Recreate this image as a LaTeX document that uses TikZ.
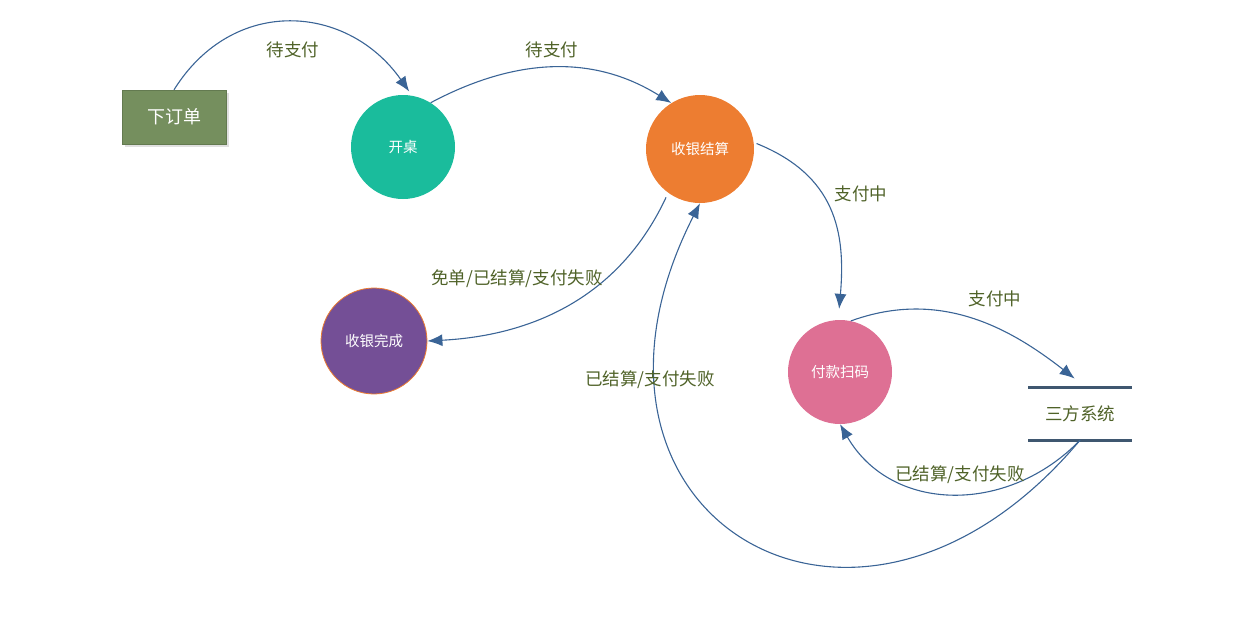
\documentclass[tikz,border=0pt]{standalone}
\usepackage{fontspec}
\setmainfont{Noto Sans CJK SC}
\usepackage{xcolor}
\usepackage{tikz}
\usetikzlibrary{shapes.geometric, positioning, arrows.meta, shadows}

\definecolor{edgeblue}{HTML}{3A6496}
\definecolor{lblgreen}{HTML}{4F6228}
\definecolor{ordergreen}{HTML}{758F5E}
\definecolor{tealc}{HTML}{1ABC9C}
\definecolor{orangec}{HTML}{ED7D31}
\definecolor{purplec}{HTML}{744F96}
\definecolor{pinkc}{HTML}{DE7094}
\definecolor{storec}{HTML}{3F5770}

\begin{document}
\begin{tikzpicture}[
    x=1pt, y=1pt,
    start/.style={
        rectangle,
        draw=ordergreen!85!black,
        fill=ordergreen,
        minimum width=104pt,
        minimum height=54pt,
        text=white,
        font=\fontsize{18}{20}\selectfont,
        drop shadow={shadow xshift=3pt, shadow yshift=-3pt, fill=black!12, opacity=1}
    },
    state/.style={
        circle,
        minimum size=#1,
        inner sep=0pt,
        text=white,
        font=\fontsize{14.5}{16}\selectfont
    },
    store/.style={
        rectangle,
        minimum width=103pt,
        minimum height=52pt,
        text=lblgreen,
        font=\fontsize{17.5}{19}\selectfont
    },
    lbl/.style={text=lblgreen, font=\fontsize{17.5}{19}\selectfont},
    line/.style={draw=edgeblue, line width=1.1pt, -{Latex[length=15pt, width=12pt]}}
]
\useasboundingbox (0,0) rectangle (1240,-619);

\node (xiadan) [start] at (174,-117) {下订单};
\node (kaizhuo) [state=104pt, fill=tealc] at (403,-147) {开桌};
\node (jiesuan) [state=108pt, fill=orangec] at (700,-149) {收银结算};
\node (wancheng) [state=106pt, fill=purplec, draw=orangec, line width=0.8pt] at (374,-341) {收银完成};
\node (saoma) [state=104pt, fill=pinkc] at (840,-372) {付款扫码};
\node (sanfang) [store] at (1080,-414) {三方系统};
\draw [storec, line width=3pt] (sanfang.north west) -- (sanfang.north east);
\draw [storec, line width=3pt] (sanfang.south west) -- (sanfang.south east);

\path [line, shorten >=5pt] (xiadan.north) to[out=58, in=125, looseness=1.2] (kaizhuo.80);
\path [line] (kaizhuo.58) to[out=28, in=148] (jiesuan.122);
\path [line, shorten <=3pt, shorten >=11pt] (jiesuan.7) to[out=-22, in=85, looseness=1.15] (saoma.92);
\path [line, shorten <=5pt] (jiesuan.234) to[out=245, in=3] (wancheng.east);
\path [line, shorten >=15pt] (saoma.78) to[out=20, in=142] (sanfang.76);
\path [line] (sanfang.south) to[out=226, in=-60, looseness=1.1] (saoma.-90);
\path [line] (sanfang.south) to[out=230, in=243, looseness=2] (jiesuan.south);

\node [lbl] at (293,-50) {待支付};
\node [lbl] at (552,-50) {待支付};
\node [lbl] at (861,-194) {支付中};
\node [lbl] at (517,-279) {免单/已结算/支付失败};
\node [lbl] at (995,-299) {支付中};
\node [lbl] at (960,-475) {已结算/支付失败};
\node [lbl] at (650,-380) {已结算/支付失败};

\end{tikzpicture}
\end{document}
